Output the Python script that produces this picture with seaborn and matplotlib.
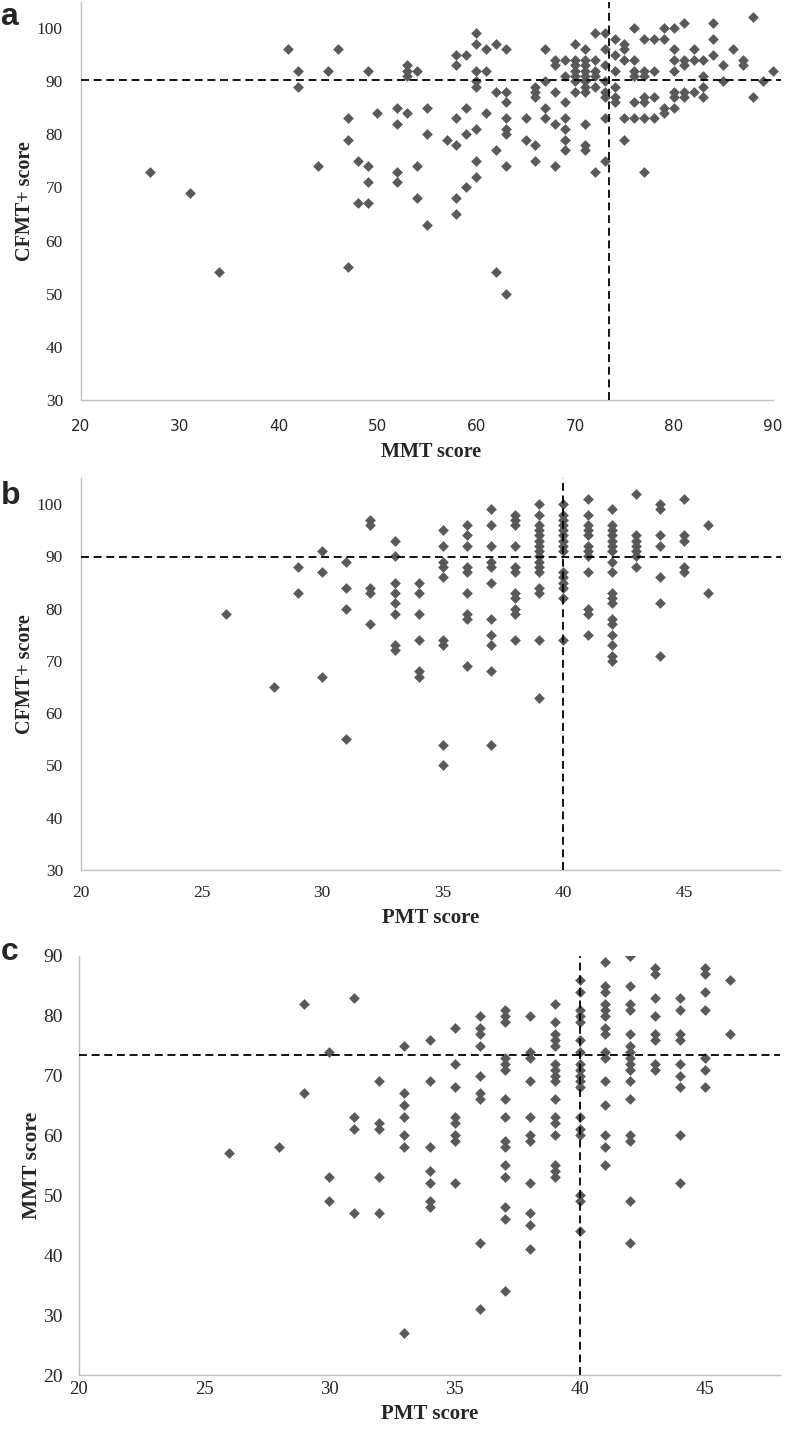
import matplotlib
matplotlib.use("Agg")
import matplotlib.pyplot as plt
import seaborn as sns
import pandas as pd

# ---------------- data ----------------
# Panel a: MMT score (x) -> CFMT+ scores (y)
mmt_cfmt = {
    27: [73], 31: [69], 34: [54], 41: [96], 42: [92, 89], 44: [74], 45: [92], 46: [96],
    47: [83, 79, 55], 48: [75, 67], 49: [92, 74, 71, 67], 50: [84],
    52: [85, 82, 73, 71], 53: [93, 92, 91, 84], 54: [92, 74, 68], 55: [85, 80, 63],
    57: [79], 58: [95, 93, 83, 78, 68, 65], 59: [95, 85, 80, 70],
    60: [99, 97, 92, 90, 89, 81, 75, 72], 61: [96, 92, 84], 62: [97, 88, 77, 54],
    63: [96, 88, 86, 83, 81, 80, 74, 50], 65: [83, 79], 66: [89, 88, 87, 78, 75],
    67: [96, 90, 85, 83], 68: [94, 93, 88, 82, 74], 69: [94, 91, 86, 83, 81, 79, 77],
    70: [97, 94, 93, 92, 91, 90, 88], 71: [96, 94, 93, 92, 91, 90, 89, 88, 82, 78, 77],
    72: [99, 94, 92, 91, 89, 73], 73: [99, 96, 93, 90, 88, 87, 83, 75],
    74: [98, 95, 92, 89, 87, 86], 75: [97, 96, 94, 83, 79], 76: [100, 94, 92, 91, 86, 83],
    77: [98, 92, 91, 87, 86, 83, 73], 78: [98, 92, 87, 83], 79: [100, 98, 85, 84],
    80: [100, 96, 94, 92, 88, 87, 85], 81: [101, 94, 93, 88, 87], 82: [96, 94, 88],
    83: [94, 91, 89, 87], 84: [101, 98, 95], 85: [93, 90], 86: [96], 87: [94, 93],
    88: [102, 87], 89: [90], 90: [92],
}
# Panel b: PMT score (x) -> CFMT+ scores (y)
pmt_cfmt = {
    26: [79], 28: [65], 29: [88, 83], 30: [91, 87, 67], 31: [89, 84, 80, 55],
    32: [97, 96, 84, 83, 77], 33: [93, 90, 85, 83, 81, 79, 73, 72],
    34: [85, 83, 79, 74, 68, 67], 35: [95, 92, 89, 88, 86, 74, 73, 54, 50],
    36: [96, 94, 92, 88, 87, 83, 79, 78, 69],
    37: [99, 96, 92, 89, 88, 85, 78, 75, 73, 68, 54],
    38: [98, 97, 96, 92, 88, 87, 83, 82, 80, 79, 74],
    39: [100, 98, 96, 95, 94, 93, 92, 91, 90, 89, 88, 87, 84, 83, 74, 63],
    40: [100, 98, 97, 96, 95, 94, 93, 92, 91, 87, 86, 85, 84, 82, 74],
    41: [101, 98, 96, 95, 94, 92, 91, 90, 87, 80, 79, 75],
    42: [99, 96, 95, 94, 93, 92, 91, 89, 87, 83, 82, 81, 78, 77, 75, 73, 71, 70],
    43: [102, 94, 93, 92, 91, 90, 88], 44: [100, 99, 94, 92, 86, 81, 71],
    45: [101, 94, 93, 88, 87], 46: [96, 83],
}
# Panel c: PMT score (x) -> MMT scores (y)
pmt_mmt = {
    26: [57], 28: [58], 29: [82, 67], 30: [74, 53, 49], 31: [83, 63, 61, 47],
    32: [69, 62, 61, 53, 47], 33: [75, 67, 65, 63, 60, 58, 27],
    34: [76, 69, 58, 54, 52, 49, 48], 35: [78, 72, 68, 63, 62, 60, 59, 52],
    36: [80, 78, 77, 75, 70, 67, 66, 42, 31],
    37: [81, 80, 79, 73, 72, 71, 66, 63, 59, 58, 55, 53, 48, 46, 34],
    38: [80, 74, 73, 69, 63, 60, 59, 52, 47, 45, 41],
    39: [82, 79, 77, 76, 75, 72, 71, 70, 69, 66, 63, 62, 60, 55, 54, 53],
    40: [86, 84, 81, 80, 79, 76, 74, 72, 71, 70, 69, 68, 63, 61, 60, 50, 49, 44],
    41: [89, 85, 84, 82, 81, 80, 78, 77, 74, 73, 69, 65, 60, 58, 55],
    42: [90, 85, 82, 81, 77, 75, 74, 73, 72, 71, 69, 66, 60, 59, 49, 42],
    43: [88, 87, 83, 80, 77, 76, 72, 71], 44: [83, 81, 77, 76, 72, 70, 68, 60, 52],
    45: [88, 87, 84, 81, 73, 71, 68], 46: [86, 77],
}
# reference (mean) lines
mean_mmt = 73.4
mean_cfmt_a = 90.2
mean_cfmt_b = 89.8
mean_pmt = 40.0

panel_letters = ["a", "b", "c"]
x_labels = ["MMT score", "PMT score", "PMT score"]
y_labels = ["CFMT+ score", "CFMT+ score", "MMT score"]


def to_df(d):
    xs, ys = [], []
    for k, vals in d.items():
        for v in vals:
            xs.append(k)
            ys.append(v)
    return pd.DataFrame({"x": xs, "y": ys})


sns.set_style("white")
plt.rcParams["font.family"] = ["Liberation Serif", "DejaVu Serif"]

W, H = 787, 1433
fig = plt.figure(figsize=(W / 100, H / 100), dpi=100)


def px_axes(left, top, right, bottom):
    return fig.add_axes([left / W, 1 - bottom / H, (right - left) / W, (bottom - top) / H])


axes = [
    px_axes(81, 1.5, 781, 400),
    px_axes(81, 478, 780.5, 870),
    px_axes(79, 955.7, 780, 1375),
]

specs = [
    dict(data=mmt_cfmt, xlim=(20, 90.85), ylim=(30, 105), xticks=range(20, 91, 10),
         yticks=range(30, 101, 10), hline=mean_cfmt_a, vline=mean_mmt, xbound=(20, 90),
         xfam="DejaVu Sans", xsize=11, xpad=10, ysize=12.5, ypad=9,
         xlab_off=52, ylab_x=-0.08, labsize=14.5, ylabsize=14.5),
    dict(data=pmt_cfmt, xlim=(20, 49), ylim=(30, 105), xticks=range(20, 46, 5),
         yticks=range(30, 101, 10), hline=mean_cfmt_b, vline=mean_pmt, xbound=None,
         xfam="Liberation Serif", xsize=12.5, xpad=7, ysize=12.5, ypad=9,
         xlab_off=48, ylab_x=-0.08, labsize=15, ylabsize=14.5),
    dict(data=pmt_mmt, xlim=(20, 48), ylim=(20, 90), xticks=range(20, 46, 5),
         yticks=range(20, 91, 10), hline=mean_mmt, vline=mean_pmt, xbound=None,
         xfam="Liberation Serif", xsize=13.5, xpad=0.5, ysize=14, ypad=7.5,
         xlab_off=39, ylab_x=-0.0675, labsize=15, ylabsize=15.5),
]

spine_col = "#BFBFBF"
for ax, sp, xl, yl in zip(axes, specs, x_labels, y_labels):
    df = to_df(sp["data"])
    sns.scatterplot(data=df, x="x", y="y", ax=ax, marker="D", s=30,
                    color="#595959", linewidth=0, zorder=3)
    ax.axhline(sp["hline"], color="black", lw=1.3, dashes=(4.4, 2.6), zorder=4)
    ax.axvline(sp["vline"], color="black", lw=1.3, dashes=(4.4, 2.6), zorder=4)
    ax.set_xlim(*sp["xlim"])
    ax.set_ylim(*sp["ylim"])
    ax.set_xticks(list(sp["xticks"]))
    ax.set_yticks(list(sp["yticks"]))
    for s in ["top", "right"]:
        ax.spines[s].set_visible(False)
    for s in ["left", "bottom"]:
        ax.spines[s].set_color(spine_col)
        ax.spines[s].set_linewidth(1.0)
    if sp["xbound"] is not None:
        ax.spines["bottom"].set_bounds(*sp["xbound"])
    ax.tick_params(axis="both", direction="out", length=4, width=0.8, color=spine_col,
                   labelcolor="#262626")
    ax.tick_params(axis="y", pad=sp["ypad"], labelsize=sp["ysize"],
                   labelfontfamily="Liberation Serif")
    ax.tick_params(axis="x", pad=sp["xpad"], labelsize=sp["xsize"],
                   labelfontfamily=sp["xfam"])
    ax.set_xlabel(xl, fontsize=sp["labsize"], fontweight="bold", family="Liberation Serif")
    ax.set_ylabel(yl, fontsize=sp["ylabsize"], fontweight="bold", family="Liberation Serif")
    h_px = ax.get_position().height * H
    ax.xaxis.set_label_coords(0.5, -sp["xlab_off"] / h_px)
    ax.xaxis.label.set_va("center")
    ax.yaxis.set_label_coords(sp["ylab_x"], 0.5)
    ax.yaxis.label.set_va("center")
    ax.grid(False)

for letter, base in zip(panel_letters, [25, 504, 960]):
    fig.text(0.5 / W, 1 - base / H, letter, fontsize=23, fontweight="bold",
             family="Liberation Sans", ha="left", va="baseline")

fig.savefig("out.png", dpi=100)
